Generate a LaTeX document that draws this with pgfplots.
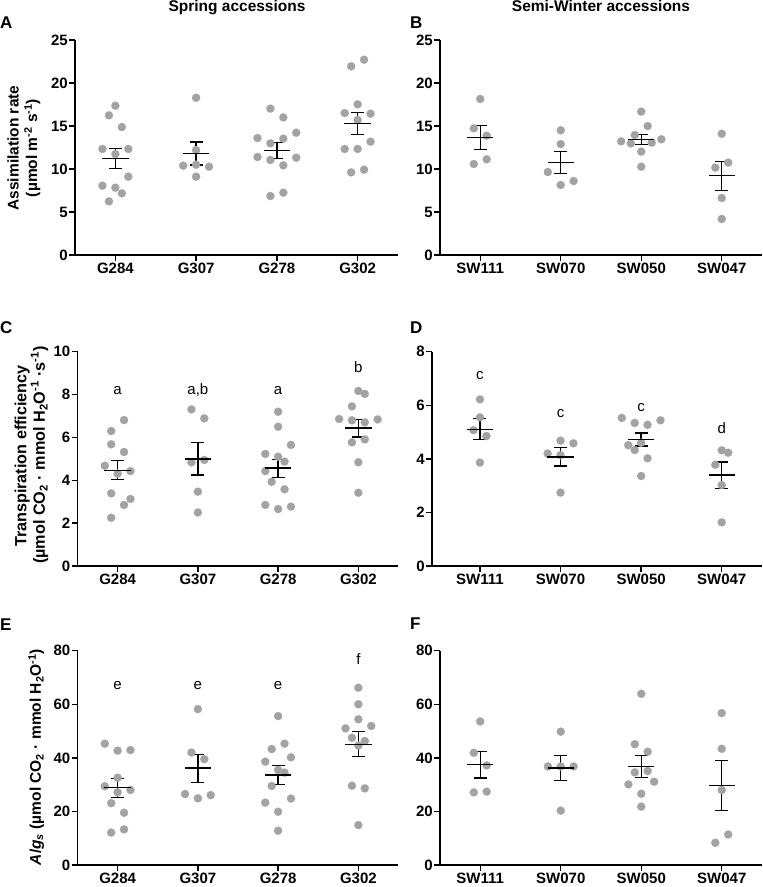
\documentclass[border=0pt]{standalone}
\usepackage{fontspec}
\setmainfont{Liberation Sans}
\usepackage{pgfplots}
\usepackage{pgfplotstable}
\pgfplotsset{compat=1.18}
\definecolor{dotgray}{RGB}{163,163,163}
\newcommand\fs{\fontsize{15}{17}\selectfont}
\newcommand\fl{\fontsize{15.5}{18}\selectfont}
\newcommand\flc{\fontsize{16.2}{19}\selectfont}

% ---------- Panel A ----------
\pgfplotstableread{
x y
0 17.36
-0.08 16.24
0.08 14.88
-0.16 12.33
0.16 12.33
0 11.74
0.16 9.11
-0.16 8.06
0 7.83
0.08 7.17
-0.08 6.24
1 18.29
1 12.2
0.84 10.39
1.16 10.27
1 10.5
1 9.11
1.92 17.02
2.08 16.0
2.24 14.22
1.76 13.6
2.08 13.53
1.92 12.98
1.76 11.4
2.24 11.32
1.92 11.05
2.08 10.43
2.08 7.25
1.92 6.86
3.08 22.71
2.92 21.94
3 17.52
2.84 16.51
3.16 16.43
3 15.7
3.16 13.18
2.84 12.33
3 12.33
2.92 9.61
3.08 9.92
}\ptsA
\pgfplotstableread{
x m ep em
0 11.2 1.2 1.15
1 11.8 1.35 1.35
2 12.15 0.9 0.9
3 15.3 1.3 1.3
}\mA

% ---------- Panel B ----------
\pgfplotstableread{
x y
0 18.14
-0.08 14.73
0.08 13.87
-0.08 10.58
0.08 11.13
1 14.5
1 12.9
0.84 9.65
1.16 8.6
1 8.14
1.75 13.22
1.87 12.98
1.92 13.95
2 16.67
2.08 15.0
2.13 13.06
2.25 13.45
2 12.02
2 10.27
3 14.1
3.08 10.74
2.92 10.16
3 6.63
3 4.19
}\ptsB
\pgfplotstableread{
x m ep em
0 13.68 1.4 1.38
1 10.75 1.25 1.25
2 13.45 0.55 0.58
3 9.22 1.68 1.74
}\mB

% ---------- Panel C ----------
\pgfplotstableread{
x y
0.08 6.81
-0.08 6.3
-0.08 5.68
0.08 5.32
-0.16 4.68
0.16 4.43
0 4.31
-0.08 3.39
0.16 3.13
0.08 2.85
-0.08 2.25
0.92 7.31
1.08 6.89
0.92 4.84
1.08 4.95
1 3.47
1 2.5
2 7.2
2 6.5
2.16 5.65
1.84 5.23
2 5.1
2.08 4.87
1.84 4.43
1.92 3.93
2.08 3.58
1.84 2.85
2.16 2.77
2 2.66
3 8.17
3.08 8.03
2.92 7.45
2.76 6.86
2.92 6.8
3.08 6.7
3.24 6.84
2.92 5.77
3.08 5.91
3 4.84
3 3.42
}\ptsC
\pgfplotstableread{
x m ep em
0 4.46 0.45 0.43
1 4.99 0.78 0.74
2 4.57 0.41 0.43
3 6.44 0.40 0.42
}\mC

% ---------- Panel D ----------
\pgfplotstableread{
x y
0 6.22
0 5.55
-0.08 5.07
0.08 4.85
0 3.86
1 4.68
1.16 4.58
0.84 4.2
1 4.14
1 2.74
1.76 5.53
2.24 5.44
1.92 5.34
2.08 5.27
1.84 4.51
1.92 4.33
2 4.6
2.08 4.02
2 3.36
3 4.32
3.08 4.23
2.92 3.78
3 3.02
3 1.63
}\ptsD
\pgfplotstableread{
x m ep em
0 5.1 0.4 0.39
1 4.07 0.36 0.34
2 4.71 0.26 0.23
3 3.4 0.48 0.51
}\mD

% ---------- Panel E ----------
\pgfplotstableread{
x y
-0.16 45.3
0 42.7
0.16 42.9
0 32.6
-0.16 29.4
0.16 28.0
0 27.1
-0.08 23.1
0.08 19.5
0.08 13.3
-0.08 12.1
1 58.2
0.92 42.0
1.08 39.5
0.84 26.5
1 24.9
1.16 26.1
2 55.6
2.08 45.3
1.92 43.3
2.16 40.2
1.84 38.6
2 35.5
2.08 34.5
1.92 29.5
2.16 24.8
1.84 23.3
2 19.9
2 12.8
3 66.2
3 60.0
3 54.4
2.84 51.0
3.16 51.9
2.92 47.5
3.08 46.3
3 44.6
2.92 29.6
3.08 28.6
3 14.9
}\ptsE
\pgfplotstableread{
x m ep em
0 28.9 3.3 3.8
1 36.2 5.1 5.5
2 33.6 3.5 3.5
3 45.0 4.8 4.6
}\mE

% ---------- Panel F ----------
\pgfplotstableread{
x y
0 53.6
-0.08 41.9
0.08 37.2
-0.08 27.1
0.08 27.4
1 49.8
0.84 36.8
1 36.8
1.16 36.8
1 20.3
2 63.9
1.92 45.1
2.08 42.3
1.92 34.6
2.08 35.1
1.84 30.1
2.16 31.1
2 26.6
2 21.8
3 56.7
3 43.4
3 28.0
3.08 11.4
2.92 8.3
}\ptsF
\pgfplotstableread{
x m ep em
0 37.4 5.0 4.9
1 36.2 4.6 4.7
2 36.7 4.1 4.1
3 29.6 9.3 9.3
}\mF

\pgfplotsset{
  panel/.style={
    scale only axis, anchor=south west,
    axis lines=left, axis line style={-, line width=1.3pt, black},
    xmin=-0.5, xmax=3.5, ymin=0, xtick={0,1,2,3},
    enlargelimits=false, clip=false,
    tick align=outside, major tick length=6pt,
    tick style={black, line width=1.3pt},
    /pgf/number format/assume math mode=true,
    tick label style={font=\fs\bfseries},
    yticklabel style={inner sep=1pt},
    xticklabel style={inner sep=2pt},
  },
  spring/.style={xticklabels={G284,G307,G278,G302}},
  winter/.style={xticklabels={SW111,SW070,SW050,SW047}},
  dots/.style={only marks, color=dotgray, mark=*, mark size=4.1pt,
    mark options={draw=dotgray, fill=dotgray, line width=0.1pt}},
}
\tikzset{sig/.style={anchor=base, font=\fs}}
\newcommand\meanplot[1]{%
  \addplot[black, line width=1.3pt, only marks, mark=-, mark size=13.2pt,
    mark options={line width=1.3pt, draw=black},
    error bars/.cd, y dir=both, y explicit, error mark=|,
    error bar style={line width=1.3pt, black},
    error mark options={line width=1.3pt, mark size=6.5pt, draw=black}]
    table[x=x, y=m, y error plus=ep, y error minus=em] {#1};}

\begin{document}
\begin{tikzpicture}
\path[use as bounding box] (0,0) rectangle (763pt,-887pt);

% titles and panel letters
\node[anchor=base, font=\fl\bfseries] at (237pt,-11pt) {Spring accessions};
\node[anchor=base, font=\fl\bfseries] at (601pt,-11pt) {Semi-Winter accessions};
\node[anchor=base west, font=\fontsize{17}{19}\selectfont\bfseries, inner sep=0pt] at (0pt,-28pt) {A};
\node[anchor=base west, font=\fontsize{17}{19}\selectfont\bfseries, inner sep=0pt] at (410pt,-28pt) {B};
\node[anchor=base west, font=\fontsize{17}{19}\selectfont\bfseries, inner sep=0pt] at (0pt,-333pt) {C};
\node[anchor=base west, font=\fontsize{17}{19}\selectfont\bfseries, inner sep=0pt] at (410pt,-333pt) {D};
\node[anchor=base west, font=\fontsize{17}{19}\selectfont\bfseries, inner sep=0pt] at (0pt,-630pt) {E};
\node[anchor=base west, font=\fontsize{17}{19}\selectfont\bfseries, inner sep=0pt] at (410pt,-629pt) {F};

% y labels
\node[rotate=90, anchor=base, font=\fl\bfseries, inner sep=0pt] at (18.5pt,-148pt) {Assimilation rate};
\node[rotate=90, anchor=base, font=\fl\bfseries, inner sep=0pt] at (37pt,-148pt) {(µmol m\textsuperscript{-2} s\textsuperscript{-1})};
\node[rotate=90, anchor=base, font=\flc\bfseries, inner sep=0pt] at (26.5pt,-456pt) {Transpiration efficiency};
\node[rotate=90, anchor=base, font=\flc\bfseries, inner sep=0pt] at (45pt,-455pt) {(µmol CO\textsubscript{2} · mmol H\textsubscript{2}O\textsuperscript{-1} ·s\textsuperscript{-1})};
\node[rotate=90, anchor=base, font=\fl\bfseries, inner sep=0pt] at (41pt,-757pt) {\textit{A}/\textit{g}\textsubscript{\textit{s}} (µmol CO\textsubscript{2} · mmol H\textsubscript{2}O\textsuperscript{-1})};

% Panel A
\begin{axis}[panel, spring, at={(75pt,-255pt)}, width=323pt, height=215pt,
  ymax=25, ytick={0,5,10,15,20,25}]
\addplot[dots] table[x=x,y=y] {\ptsA};
\meanplot{\mA}
\end{axis}

% Panel B
\begin{axis}[panel, winter, at={(440pt,-255pt)}, width=322pt, height=215pt,
  ymax=25, ytick={0,5,10,15,20,25}]
\addplot[dots] table[x=x,y=y] {\ptsB};
\meanplot{\mB}
\end{axis}

% Panel C
\begin{axis}[panel, spring, at={(77.5pt,-566pt)}, width=321pt, height=214.3pt,
  ymax=10, ytick={0,2,4,6,8,10}]
\addplot[dots] table[x=x,y=y] {\ptsC};
\meanplot{\mC}
\node[sig] at (axis cs:0,7.98) {a};
\node[sig] at (axis cs:1,7.98) {a,b};
\node[sig] at (axis cs:2,7.98) {a};
\node[sig] at (axis cs:3,9.04) {b};
\end{axis}

% Panel D
\begin{axis}[panel, winter, at={(432pt,-566pt)}, width=330pt, height=214.3pt,
  xmin=-0.595, ymax=8, ytick={0,2,4,6,8}]
\addplot[dots] table[x=x,y=y] {\ptsD};
\meanplot{\mD}
\node[sig] at (axis cs:0,6.97) {c};
\node[sig] at (axis cs:1,5.53) {c};
\node[sig] at (axis cs:2,5.76) {c};
\node[sig] at (axis cs:3,4.93) {d};
\end{axis}

% Panel E
\begin{axis}[panel, spring, at={(77.5pt,-865pt)}, width=321pt, height=214.3pt,
  ymax=80, ytick={0,20,40,60,80}]
\addplot[dots] table[x=x,y=y] {\ptsE};
\meanplot{\mE}
\node[sig] at (axis cs:0,65.5) {e};
\node[sig] at (axis cs:1,65.5) {e};
\node[sig] at (axis cs:2,65.5) {e};
\node[sig] at (axis cs:3,74.9) {f};
\end{axis}

% Panel F
\begin{axis}[panel, winter, at={(440pt,-865pt)}, width=322pt, height=214.3pt,
  ymax=80, ytick={0,20,40,60,80}]
\addplot[dots] table[x=x,y=y] {\ptsF};
\meanplot{\mF}
\end{axis}
\end{tikzpicture}
\end{document}
